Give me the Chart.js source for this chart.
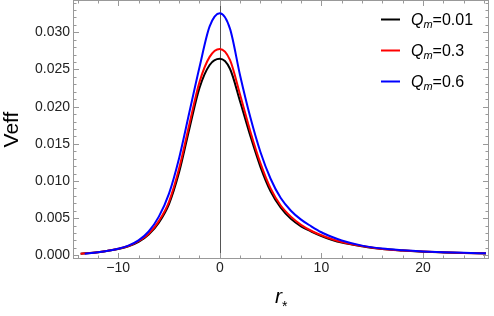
<!DOCTYPE html>
<html>
<head>
<meta charset="utf-8">
<script src="https://cdn.jsdelivr.net/npm/chart.js@4.4.1/dist/chart.umd.min.js"></script>
<style>
  html, body { margin: 0; padding: 0; background: #fff; }
  #wrap { width: 494px; height: 316px; position: relative; }
</style>
</head>
<body>
<div id="wrap"><canvas id="veffChart"></canvas></div>
<script>
// r* grid
const rGrid = [-13.7, -12, -11, -10, -9, -8, -7, -6, -5, -4, -3, -2, -1, 0,
    1, 2, 3, 4, 5, 6, 7, 8, 9, 10, 11, 12, 14, 16, 18, 20, 22, 24, 26.2];
const rGridBlue = [-13.3, -12, -11, -10, -9, -8, -7, -6, -5, -4, -3, -2, -1, 0,
    1, 2, 3, 4, 5, 6, 7, 8, 9, 10, 11, 12, 14, 16, 18, 20, 22, 24, 26.2];

const veffQ001 = [0.0002, 0.0004, 0.0006, 0.00085, 0.0012, 0.0018, 0.0028, 0.0044, 0.0069, 0.0112, 0.0170, 0.0225, 0.0256,
    0.02643,
    0.0251, 0.0207, 0.0161, 0.0119, 0.0086, 0.0064, 0.0049, 0.0039, 0.0032, 0.0026, 0.0021, 0.0017, 0.0012, 0.00083, 0.00064, 0.00049, 0.00039, 0.00031, 0.00025];
const veffQ03 = [0.0002, 0.0004, 0.00062, 0.00087, 0.00125, 0.0019, 0.0029, 0.0046, 0.0072, 0.0117, 0.0176, 0.0233, 0.0267,
    0.02777,
    0.0263, 0.0216, 0.0167, 0.0124, 0.0090, 0.0067, 0.0052, 0.0041, 0.0033, 0.0027, 0.0022, 0.0018, 0.00125, 0.00085, 0.00065, 0.0005, 0.0004, 0.00032, 0.00026];
const veffQ06 = [0.0002, 0.0004, 0.0006, 0.00088, 0.0013, 0.0020, 0.0032, 0.0052, 0.0083, 0.0131, 0.0192, 0.0253, 0.0308,
    0.03257,
    0.0305, 0.0242, 0.0186, 0.0139, 0.0103, 0.0077, 0.0060, 0.0048, 0.0039, 0.0031, 0.0025, 0.0020, 0.0013, 0.0009, 0.00068, 0.00052, 0.00041, 0.00033, 0.00027];

const qValues = ["0.01", "0.3", "0.6"];
const colors = ["#000000", "#ff0000", "#0000ff"];

const xTicks = [-10, 0, 10, 20];
const yTicks = [0, 0.005, 0.010, 0.015, 0.020, 0.025, 0.030];

const frameGray = "#999999";
const labelFont = "Liberation Sans, Arial, sans-serif";

function toPoints(xs, ys) {
    return xs.map((x, i) => ({ x: x, y: ys[i] }));
}

// frame with inward ticks, zero axis, legend and x title
const framePlugin = {
    id: "frame",
    beforeDatasetsDraw(chart) {
        const { ctx, chartArea: a, scales: { x } } = chart;
        const x0 = Math.round(x.getPixelForValue(0)) + 0.5;
        ctx.save();
        ctx.strokeStyle = "#555555";
        ctx.lineWidth = 1;
        ctx.beginPath();
        ctx.moveTo(x0, a.top);
        ctx.lineTo(x0, a.bottom);
        ctx.stroke();
        ctx.restore();
    },
    afterDraw(chart) {
        const { ctx, chartArea: a, scales: { x, y } } = chart;
        ctx.save();
        ctx.strokeStyle = frameGray;
        ctx.lineWidth = 1;
        ctx.strokeRect(a.left + 0.5, a.top + 0.5, a.right - a.left - 1, a.bottom - a.top - 1);

        ctx.beginPath();
        // x ticks, every 2 with majors every 10
        for (let v = -14; v <= 26; v += 2) {
            const px = Math.round(x.getPixelForValue(v)) + 0.5;
            const len = (v % 10 === 0) ? 6 : 3.5;
            ctx.moveTo(px, a.bottom); ctx.lineTo(px, a.bottom - len);
            ctx.moveTo(px, a.top); ctx.lineTo(px, a.top + len);
        }
        // y ticks, every 0.001 with majors every 0.005
        for (let k = 0; k <= 34; k++) {
            const py = Math.round(y.getPixelForValue(k / 1000)) + 0.5;
            const len = (k % 5 === 0) ? 6 : 3.5;
            ctx.moveTo(a.left, py); ctx.lineTo(a.left + len, py);
            ctx.moveTo(a.right, py); ctx.lineTo(a.right - len, py);
        }
        ctx.stroke();

        // legend
        ctx.textBaseline = "alphabetic";
        ctx.fillStyle = "#000";
        qValues.forEach((q, i) => {
            const ly = 19 + i * 31;
            ctx.strokeStyle = colors[i];
            ctx.lineWidth = 2;
            ctx.beginPath();
            ctx.moveTo(381, ly + 0.5);
            ctx.lineTo(400, ly + 0.5);
            ctx.stroke();

            let tx = 411;
            const base = ly + 6;
            ctx.font = "italic 16px " + labelFont;
            ctx.fillText("Q", tx, base);
            tx += ctx.measureText("Q").width;
            ctx.font = "italic 11px " + labelFont;
            ctx.fillText("m", tx, base + 3);
            tx += ctx.measureText("m").width;
            ctx.font = "16px " + labelFont;
            ctx.fillText("=" + q, tx, base);
        });

        // x axis title r*
        const cx = (a.left + a.right) / 2;
        ctx.font = "italic 21px " + labelFont;
        const rw = ctx.measureText("r").width;
        ctx.fillText("r", cx - rw + 1, 303);
        ctx.font = "14px " + labelFont;
        ctx.fillText("*", cx + 1, 311);
        ctx.restore();
    }
};

new Chart(document.getElementById("veffChart"), {
    type: "line",
    data: {
        datasets: [{
            data: toPoints(rGrid, veffQ001),
            borderColor: colors[0],
            order: 2
        }, {
            data: toPoints(rGrid, veffQ03),
            borderColor: colors[1],
            order: 1
        }, {
            data: toPoints(rGridBlue, veffQ06),
            borderColor: colors[2],
            order: 0
        }]
    },
    options: {
        responsive: true,
        maintainAspectRatio: false,
        animation: false,
        layout: { padding: { top: 0, right: 5, left: 0, bottom: 0 } },
        elements: {
            point: { radius: 0 },
            line: { borderWidth: 2, cubicInterpolationMode: "monotone", fill: false }
        },
        plugins: {
            legend: { display: false },
            tooltip: { enabled: false }
        },
        scales: {
            x: {
                type: "linear",
                min: -14.45,
                max: 26.5,
                grid: { display: false, drawTicks: false },
                border: { display: false },
                afterBuildTicks: s => { s.ticks = xTicks.map(v => ({ value: v })); },
                afterFit: s => {
                    s.height = 57;
                    s.paddingLeft = 0; s.paddingRight = 0;
                },
                ticks: {
                    padding: 1,
                    color: "#222",
                    font: { family: labelFont, size: 14 },
                    maxRotation: 0,
                    callback: v => v < 0 ? "\u2212" + Math.abs(v) : String(v)
                }
            },
            y: {
                min: -0.0005,
                max: 0.03435,
                grid: { display: false, drawTicks: false },
                border: { display: false },
                afterBuildTicks: s => { s.ticks = yTicks.map(v => ({ value: v })); },
                afterFit: s => {
                    s.width = 73;
                    s.paddingTop = 0; s.paddingBottom = 0;
                },
                title: {
                    display: true,
                    text: "Veff",
                    color: "#000",
                    font: { family: labelFont, size: 21 },
                    padding: { top: 0, bottom: 0 }
                },
                ticks: {
                    padding: 3,
                    color: "#222",
                    font: { family: labelFont, size: 14 },
                    callback: v => Number(v).toFixed(3)
                }
            }
        }
    },
    plugins: [framePlugin]
});
</script>
</body>
</html>
